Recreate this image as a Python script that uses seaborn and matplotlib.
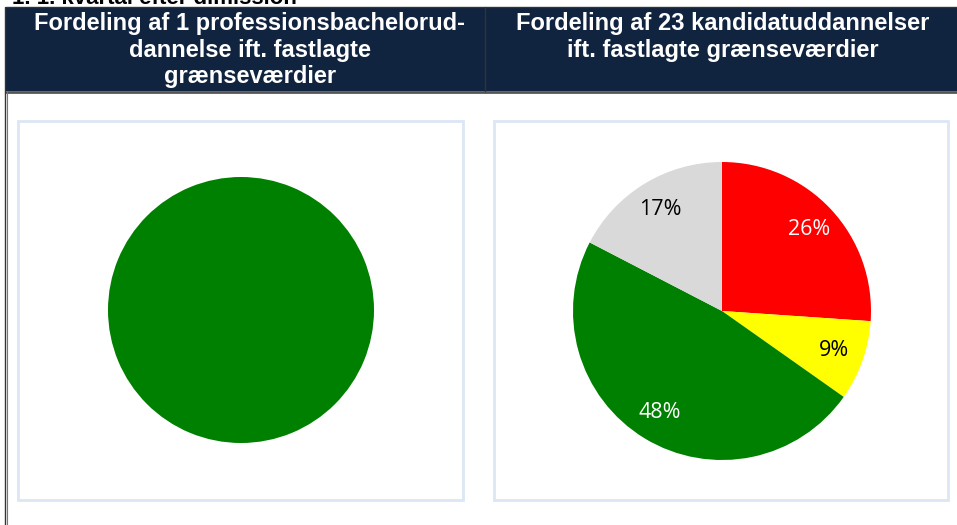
import matplotlib.pyplot as plt
import matplotlib.patches as mpatches
import seaborn as sns

# data
left_title = 'Fordeling af 1 professionsbachelorud-\ndannelse ift. fastlagte\ngrænseværdier'
right_title = 'Fordeling af 23 kandidatuddannelser\nift. fastlagte grænseværdier'
left_counts = [1]
left_colors = ['#008000']
right_counts = [6, 2, 11, 4]
right_colors = ['#FF0000', '#FFFF00', '#008000', '#D9D9D9']
right_label_colors = ['white', 'black', 'white', 'black']

sns.set_theme(style='white')
plt.rcParams['font.family'] = ['Liberation Sans', 'DejaVu Sans']

W, H = 957, 525
fig = plt.figure(figsize=(W / 100, H / 100), dpi=100)
fig.patch.set_facecolor('white')


def px_rect(x0, y0, x1, y1, **kw):
    # rectangle in pixel coords (top-left origin)
    r = mpatches.Rectangle((x0 / W, 1 - y1 / H), (x1 - x0) / W, (y1 - y0) / H,
                           transform=fig.transFigure, zorder=-2, **kw)
    fig.patches.append(r)


def px_line(x0, y0, x1, y1, **kw):
    fig.add_artist(plt.Line2D([x0 / W, x1 / W], [1 - y0 / H, 1 - y1 / H],
                              transform=fig.transFigure, **kw))


# cut-off caption at very top
fig.text(12 / W, 1 + 2 / H, '1. 1. kvartal efter dimission', ha='left', va='center',
         fontsize=16, fontweight='bold', color='black', zorder=-3)

# header band
px_rect(6, 7, W + 2, 91, facecolor='#10233F', edgecolor='none')
px_line(6, 91.5, W, 91.5, color='#555555', lw=2)
px_line(6, 7, W, 7, color='#333333', lw=1)
px_line(485, 7, 485, 91, color='#333333', lw=1)
px_line(5, 7, 5, H, color='#333333', lw=1)
px_line(7.5, 91, 7.5, H, color='#777777', lw=0.8)

fig.text(250 / W, 1 - 12 / H, left_title, ha='center', va='top', fontsize=17,
         fontweight='bold', color='white', linespacing=1.2)
fig.text(723 / W, 1 - 12 / H, right_title, ha='center', va='top', fontsize=17,
         fontweight='bold', color='white', linespacing=1.2)

# chart boxes
px_rect(18, 121, 463, 500, facecolor='white', edgecolor='#DCE6F4', lw=2)
px_rect(494, 121, 948, 500, facecolor='white', edgecolor='#DCE6F4', lw=2)


def pie_axes(cx, cy, r):
    ax = fig.add_axes([(cx - r) / W, 1 - (cy + r) / H, 2 * r / W, 2 * r / H])
    ax.set_zorder(2)
    return ax


# left pie
ax1 = pie_axes(241, 310, 133)
ax1.pie(left_counts, colors=left_colors, startangle=90, counterclock=False,
        wedgeprops=dict(linewidth=0))
ax1.set_xlim(-1, 1)
ax1.set_ylim(-1, 1)
ax1.axis('off')

# right pie
ax2 = pie_axes(722, 311, 149)
wedges, texts, autotexts = ax2.pie(
    right_counts, colors=right_colors, startangle=90, counterclock=False,
    autopct=lambda p: f'{p:.0f}%', pctdistance=0.8,
    wedgeprops=dict(linewidth=0),
    textprops=dict(fontsize=15.5, family=['Open Sans', 'DejaVu Sans']))
for t, c in zip(autotexts, right_label_colors):
    t.set_color(c)
ax2.set_xlim(-1, 1)
ax2.set_ylim(-1, 1)
ax2.axis('off')

fig.savefig('out.png', dpi=100)
